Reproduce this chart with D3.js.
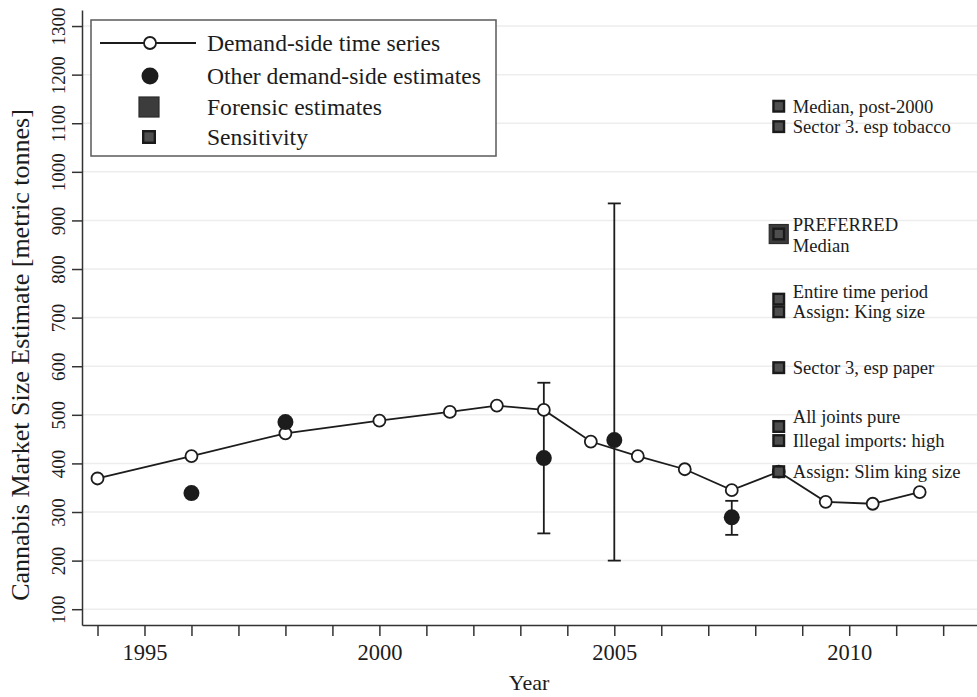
<!DOCTYPE html>
<html>
<head>
<meta charset="utf-8">
<script src="https://cdn.jsdelivr.net/npm/d3@7/dist/d3.min.js"></script>
<style>
  html, body { margin: 0; padding: 0; background: #fff; }
  svg { display: block; }
  svg text { font-family: "Liberation Serif", "Times New Roman", serif; }
</style>
</head>
<body>
<svg id="chart" width="977" height="697"></svg>
<script>
// Demand-side time series (years are mid-points of survey years)
const seriesYears  = [1994, 1996, 1998, 2000, 2001.5, 2002.5, 2003.5, 2004.5, 2005.5, 2006.5, 2007.5, 2008.5, 2009.5, 2010.5, 2011.5];
const seriesValues = [369, 415, 462, 488, 506, 519, 510, 445, 415, 388, 345, 383, 321, 317, 341];

// Other demand-side estimates, with ranges where published
const otherYears  = [1996, 1998, 2003.5, 2005, 2007.5];
const otherValues = [339, 485, 411, 448, 289];
const otherLow    = [null, null, 256, 200, 253];
const otherHigh   = [null, null, 566, 935, 323];

// Forensic estimate and sensitivity runs (all placed at 2008.5)
const forensicYear   = 2008.5;
const forensicValues = [872];
const sensLabels = ["Median, post-2000", "Sector 3. esp tobacco", "PREFERRED|Median", "Entire time period",
                    "Assign: King size", "Sector 3, esp paper", "All joints pure", "Illegal imports: high",
                    "Assign: Slim king size"];
const sensValues = [1135, 1093, 872, 738, 712, 597, 476, 447, 383];
const sensLabelNudge = [0, 0, 0, -8, 0, 0, -10, 0, 0];   // px, keeps stacked labels apart

const yTicks = [100, 200, 300, 400, 500, 600, 700, 800, 900, 1000, 1100, 1200, 1300];
const xTicks = d3.range(1994, 2013);
const xLabelled = [1995, 2000, 2005, 2010];

const legendItems = ["Demand-side time series", "Other demand-side estimates", "Forensic estimates", "Sensitivity"];

const INK = "#1c1c1c";
const SERIF = "Liberation Serif, Times New Roman, serif";
const svg = d3.select("#chart");

const x = d3.scaleLinear().domain([1993.67, 2012.72]).range([82, 977]);
const y = d3.scaleLinear().domain([67.5, 1333]).range([625, 10]);

// gridlines
svg.append("g").selectAll("line").data(yTicks).join("line")
  .attr("x1", 83).attr("x2", 977)
  .attr("y1", d => y(d)).attr("y2", d => y(d))
  .attr("stroke", "#ededed").attr("stroke-width", 1.5);

// y axis
const yAxis = svg.append("g").attr("transform", "translate(82,0)")
  .call(d3.axisLeft(y).tickValues(yTicks).tickSize(10).tickSizeOuter(0).tickFormat(d3.format("d")))
  .attr("font-family", SERIF).attr("font-size", 19);
yAxis.select(".domain").attr("stroke", "#333").attr("stroke-width", 1.5);
yAxis.selectAll(".tick line").attr("stroke", "#333").attr("stroke-width", 1.5);
yAxis.selectAll(".tick text")
  .attr("x", null).attr("dy", null)
  .attr("transform", "translate(-17,0) rotate(-90)")
  .attr("text-anchor", "middle")
  .attr("fill", INK);

// x axis
const xAxis = svg.append("g").attr("transform", "translate(0,625)")
  .call(d3.axisBottom(x).tickValues(xTicks).tickSize(11).tickSizeOuter(0)
    .tickFormat(d => xLabelled.includes(d) ? d3.format("d")(d) : ""))
  .attr("font-family", SERIF).attr("font-size", 22.5);
xAxis.select(".domain").attr("stroke", "#333").attr("stroke-width", 1.5);
xAxis.selectAll(".tick line").attr("stroke", "#333").attr("stroke-width", 1.5);
xAxis.selectAll(".tick text")
  .attr("y", 35).attr("dy", null)
  .attr("fill", INK);

// axis titles
svg.append("text").attr("x", 529).attr("y", 690).attr("text-anchor", "middle")
  .attr("font-size", 22).attr("fill", INK).text("Year");
svg.append("text").attr("transform", "translate(29,355) rotate(-90)").attr("text-anchor", "middle")
  .attr("font-size", 26).attr("fill", INK).text("Cannabis Market Size Estimate [metric tonnes]");

// error bars for other estimates
const eb = otherYears.map((yr, i) => ({ yr, lo: otherLow[i], hi: otherHigh[i] })).filter(d => d.lo !== null);
const ebG = svg.append("g").attr("stroke", INK).attr("stroke-width", 1.8);
ebG.selectAll("line.v").data(eb).join("line").attr("class", "v")
  .attr("x1", d => x(d.yr)).attr("x2", d => x(d.yr)).attr("y1", d => y(d.lo)).attr("y2", d => y(d.hi));
ebG.selectAll("line.lo").data(eb).join("line").attr("class", "lo")
  .attr("x1", d => x(d.yr) - 6.5).attr("x2", d => x(d.yr) + 6.5).attr("y1", d => y(d.lo)).attr("y2", d => y(d.lo));
ebG.selectAll("line.hi").data(eb).join("line").attr("class", "hi")
  .attr("x1", d => x(d.yr) - 6.5).attr("x2", d => x(d.yr) + 6.5).attr("y1", d => y(d.hi)).attr("y2", d => y(d.hi));

// time series line + open circles
const pts = seriesYears.map((yr, i) => [yr, seriesValues[i]]);
svg.append("path").datum(pts)
  .attr("d", d3.line().x(d => x(d[0])).y(d => y(d[1])))
  .attr("fill", "none").attr("stroke", INK).attr("stroke-width", 1.8);
svg.append("g").selectAll("circle").data(pts).join("circle")
  .attr("cx", d => x(d[0])).attr("cy", d => y(d[1])).attr("r", 6)
  .attr("fill", "#fff").attr("stroke", INK).attr("stroke-width", 1.8);

// other demand-side point estimates
svg.append("g").selectAll("circle").data(otherYears.map((yr, i) => [yr, otherValues[i]])).join("circle")
  .attr("cx", d => x(d[0])).attr("cy", d => y(d[1])).attr("r", 8)
  .attr("fill", INK);

// square markers
function bigSquare(g, cx, cy, s) {
  g.append("rect").attr("x", cx - s / 2).attr("y", cy - s / 2).attr("width", s).attr("height", s)
    .attr("fill", "#3c3c3c").attr("stroke", "#2a2a2a").attr("stroke-width", 1.2);
}
function smallSquare(g, cx, cy, s) {
  g.append("rect").attr("x", cx - s / 2 + 1.2).attr("y", cy - s / 2 + 1.2)
    .attr("width", s - 2.4).attr("height", s - 2.4)
    .attr("fill", "#4e4e4e").attr("stroke", "#1a1a1a").attr("stroke-width", 2.4);
}
const sqG = svg.append("g");
forensicValues.forEach(v => bigSquare(sqG, x(forensicYear), y(v), 19));
sensValues.forEach(v => smallSquare(sqG, x(forensicYear), y(v), 13));

// sensitivity labels
const labG = svg.append("g").attr("font-size", 18.6).attr("fill", INK);
sensLabels.forEach((lab, i) => {
  const cy = y(sensValues[i]) + sensLabelNudge[i];
  const lines = lab.split("|");
  if (lines.length === 1) {
    labG.append("text").attr("x", x(forensicYear) + 14).attr("y", cy)
      .attr("dominant-baseline", "central").text(lab);
  } else {
    labG.append("text").attr("x", x(forensicYear) + 14).attr("y", cy - 10)
      .attr("dominant-baseline", "central").text(lines[0]);
    labG.append("text").attr("x", x(forensicYear) + 14).attr("y", cy + 11)
      .attr("dominant-baseline", "central").text(lines[1]);
  }
});

// legend
const lg = svg.append("g");
lg.append("rect").attr("x", 91).attr("y", 20).attr("width", 405).attr("height", 136)
  .attr("fill", "#fff").attr("stroke", "#5a5a5a").attr("stroke-width", 1.5);
const rowY = [43, 76, 107, 137];
lg.append("line").attr("x1", 100).attr("x2", 196).attr("y1", rowY[0]).attr("y2", rowY[0])
  .attr("stroke", INK).attr("stroke-width", 1.8);
lg.append("circle").attr("cx", 150).attr("cy", rowY[0]).attr("r", 6)
  .attr("fill", "#fff").attr("stroke", INK).attr("stroke-width", 1.8);
lg.append("circle").attr("cx", 150).attr("cy", rowY[1]).attr("r", 8.5).attr("fill", INK);
bigSquare(lg, 149, rowY[2], 20);
smallSquare(lg, 149, rowY[3], 14);
lg.selectAll("text").data(legendItems).join("text")
  .attr("x", 207).attr("y", (d, i) => rowY[i]).attr("dominant-baseline", "central")
  .attr("font-size", 23.6).attr("fill", INK).text(d => d);
</script>
</body>
</html>
